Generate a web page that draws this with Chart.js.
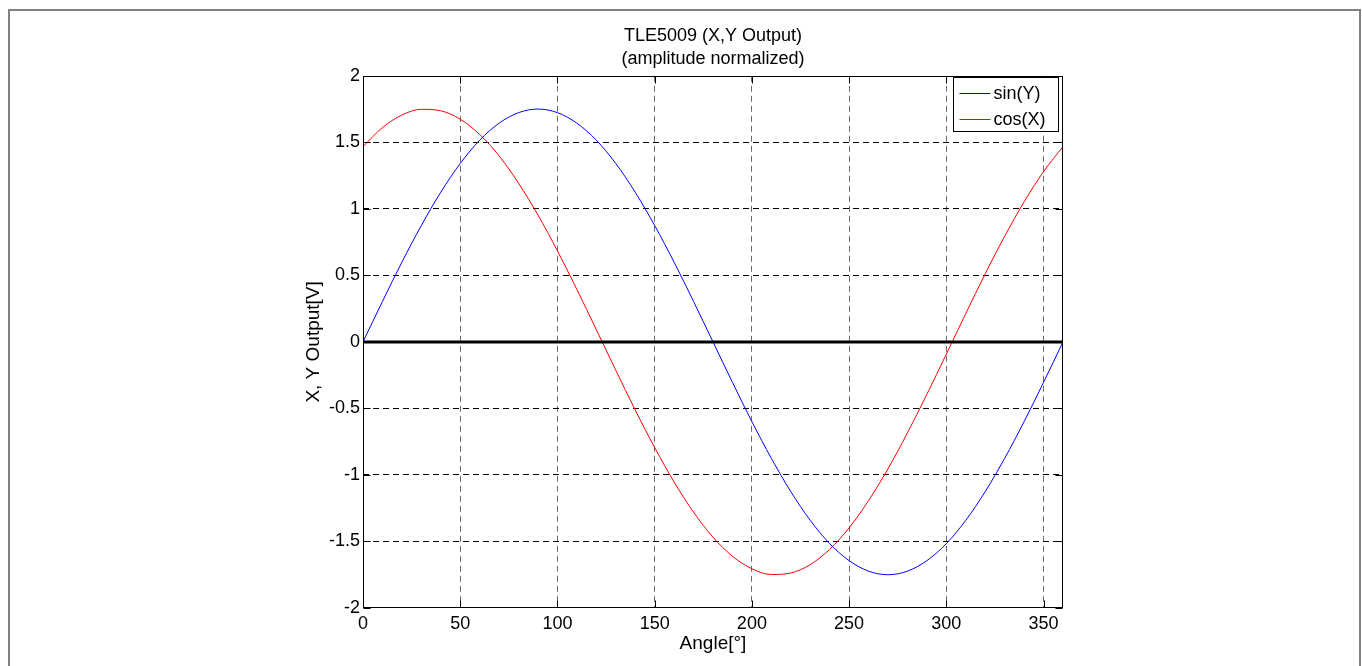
<!DOCTYPE html>
<html><head><meta charset="utf-8">
<script src="https://cdn.jsdelivr.net/npm/chart.js@4.4.1/dist/chart.umd.min.js"></script>
<style>
html,body{margin:0;padding:0;background:#fff;overflow:hidden}
#wrap{position:absolute;left:0;top:0;width:1362px;height:666px}
#frame{position:absolute;left:8px;top:9px;width:1353px;height:680px;border:2px solid #808080;box-sizing:border-box;pointer-events:none}
canvas{display:block}
</style></head><body>
<div id="wrap"><canvas id="c" width="1362" height="666"></canvas><div id="frame"></div></div>
<script>
const angles = [0,10,20,30,40,50,60,70,80,90,100,110,120,130,140,150,160,170,180,190,200,210,220,230,240,250,260,270,280,290,300,310,320,330,340,350,360];
const sinY = [0,0.304,0.599,0.875,1.125,1.341,1.516,1.644,1.723,1.75,1.723,1.644,1.516,1.341,1.125,0.875,0.599,0.304,0,-0.304,-0.599,-0.875,-1.125,-1.341,-1.516,-1.644,-1.723,-1.75,-1.723,-1.644,-1.516,-1.341,-1.125,-0.875,-0.599,-0.304,0];
const cosX = [1.468,1.611,1.705,1.748,1.737,1.674,1.559,1.398,1.193,0.953,0.684,0.394,0.092,-0.213,-0.512,-0.794,-1.053,-1.280,-1.468,-1.611,-1.705,-1.748,-1.737,-1.674,-1.559,-1.398,-1.193,-0.953,-0.684,-0.394,-0.092,0.213,0.512,0.794,1.053,1.280,1.468];
const zeroAngles = [0,360];
const zeroValues = [0,0];
const xTickValues = [0,50,100,150,200,250,300,350];
const xTickLabels = ['0','50','100','150','200','250','300','350'];
const yTickValues = [-2,-1.5,-1,-0.5,0,0.5,1,1.5,2];
const yTickLabels = ['-2','-1.5','-1','-0.5','0','0.5','1','1.5','2'];
const titleLines = ['TLE5009 (X,Y Output)','(amplitude normalized)'];
const xLabel = 'Angle[°]';
const yLabel = 'X, Y Output[V]';
const seriesNames = ['sin(Y)','cos(X)'];

const FONT = "'Liberation Sans', Arial, sans-serif";
const toXY = (xs, ys) => xs.map((x,i)=>({x:x, y:ys[i]}));

const boxPlugin = {
  id: 'matlabBox',
  afterDatasetsDraw(chart) {
    const {ctx, chartArea: ca, scales} = chart;
    ctx.save();
    ctx.strokeStyle = '#000';
    ctx.lineWidth = 1;
    const L = Math.round(ca.left)+0.5, R = Math.round(ca.right)-0.5, T = Math.round(ca.top)+0.5, B = Math.round(ca.bottom)-0.5;
    ctx.strokeRect(L, T, R-L, B-T);
    const tl = 7;
    ctx.beginPath();
    scales.x.ticks.forEach(t => {
      const px = Math.round(scales.x.getPixelForValue(t.value))+0.5;
      ctx.moveTo(px, B); ctx.lineTo(px, B-tl);
      ctx.moveTo(px, T); ctx.lineTo(px, T+tl);
    });
    scales.y.ticks.forEach(t => {
      const py = Math.round(scales.y.getPixelForValue(t.value))+0.5;
      ctx.moveTo(L, py); ctx.lineTo(L+tl, py);
      ctx.moveTo(R, py); ctx.lineTo(R-tl, py);
    });
    ctx.stroke();
    // legend
    const items = chart.data.datasets.filter(d => seriesNames.includes(d.label));
    const w = 105, h = 54;
    const x0 = Math.round(ca.right) - 5 - w + 0.5, y0 = Math.round(ca.top) + 1 + 0.5;
    ctx.fillStyle = '#fff';
    ctx.fillRect(x0, y0, w, h);
    ctx.strokeStyle = '#000';
    ctx.strokeRect(x0, y0, w, h);
    ctx.font = '18px ' + FONT;
    ctx.textBaseline = 'middle';
    ctx.textAlign = 'left';
    items.forEach((d, i) => {
      const yy = Math.round(y0 + 15 + i*26) + 0.5;
      ctx.strokeStyle = d.borderColor;
      ctx.lineWidth = 1;
      ctx.beginPath(); ctx.moveTo(x0+6, yy); ctx.lineTo(x0+37, yy); ctx.stroke();
      ctx.fillStyle = '#000';
      ctx.fillText(d.label, x0+40, yy+1);
    });
    ctx.restore();
  }
};

new Chart(document.getElementById('c'), {
  type: 'line',
  data: {
    datasets: [
      {label: 'zero', data: toXY(zeroAngles, zeroValues), borderColor: '#000', borderWidth: 3, pointRadius: 0},
      {label: seriesNames[0], data: toXY(angles, sinY), borderColor: '#0000ff', borderWidth: 1, pointRadius: 0, cubicInterpolationMode: 'monotone'},
      {label: seriesNames[1], data: toXY(angles, cosX), borderColor: '#ff0000', borderWidth: 1, pointRadius: 0, cubicInterpolationMode: 'monotone'}
    ]
  },
  options: {
    responsive: false,
    animation: false,
    devicePixelRatio: 1,
    layout: {padding: {left: 295, right: 299, top: 0, bottom: 0}},
    plugins: {
      legend: {display: false},
      tooltip: {enabled: false},
      title: {
        display: true, fullSize: false, text: titleLines, color: '#000',
        font: {family: FONT, size: 18, weight: 'normal', lineHeight: 1.3},
        padding: {top: 24, bottom: 5}
      }
    },
    scales: {
      x: {
        type: 'linear', min: 0, max: 360,
        afterFit(s) { s.height = 58; },
        afterBuildTicks(s) { s.ticks = xTickValues.map(v => ({value: v})); },
        ticks: {color: '#000', font: {family: FONT, size: 18}, padding: 5, maxRotation: 0,
          callback: (v) => { const i = xTickValues.indexOf(v); return i >= 0 ? xTickLabels[i] : ''; }},
        grid: {drawTicks: false, color: ctx => (ctx.tick && ctx.tick.value === 0) ? 'rgba(0,0,0,0)' : '#6a6a6a', lineWidth: 1},
        border: {display: false, dash: [6,4]},
        title: {display: true, text: xLabel, color: '#000', font: {family: FONT, size: 19}, padding: {top: 0, bottom: 11}}
      },
      y: {
        min: -2, max: 2,
        afterFit(s) { s.width = 68; },
        afterBuildTicks(s) { s.ticks = yTickValues.map(v => ({value: v})); },
        ticks: {color: '#000', font: {family: FONT, size: 18}, padding: 3,
          callback: (v) => { const i = yTickValues.indexOf(v); return i >= 0 ? yTickLabels[i] : ''; }},
        grid: {drawTicks: false, color: ctx => (ctx.tick && (ctx.tick.value === -2 || ctx.tick.value === 2)) ? 'rgba(0,0,0,0)' : '#000', lineWidth: 1},
        border: {display: false, dash: [6,4]},
        title: {display: true, text: yLabel, color: '#000', font: {family: FONT, size: 19}, padding: {top: 7, bottom: 0}}
      }
    }
  },
  plugins: [boxPlugin]
});
</script>
</body></html>
